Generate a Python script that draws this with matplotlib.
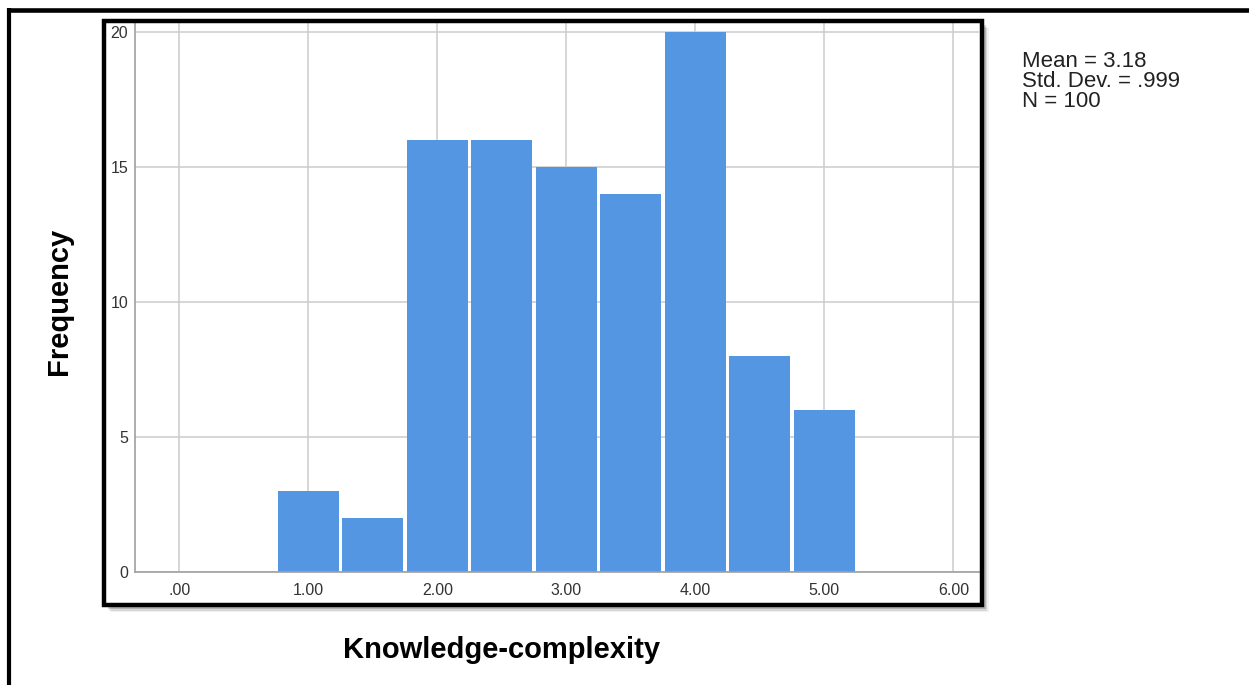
import matplotlib
matplotlib.use("Agg")
import matplotlib.pyplot as plt
from matplotlib.patches import Rectangle
from matplotlib.lines import Line2D

# ---- data ----
bin_centers = [1.0, 1.5, 2.0, 2.5, 3.0, 3.5, 4.0, 4.5, 5.0]
frequencies = [3, 2, 16, 16, 15, 14, 20, 8, 6]
x_ticks = [0, 1, 2, 3, 4, 5, 6]
x_tick_labels = [".00", "1.00", "2.00", "3.00", "4.00", "5.00", "6.00"]
y_ticks = [0, 5, 10, 15, 20]
y_tick_labels = ["0", "5", "10", "15", "20"]
stats_lines = ["Mean = 3.18", "Std. Dev. = .999", "N = 100"]
x_title = "Knowledge-complexity"
y_title = "Frequency"

plt.rcParams['font.family'] = ['Liberation Sans', 'DejaVu Sans']

W, H = 1249, 685
fig = plt.figure(figsize=(W / 100, H / 100), dpi=100)
fig.patch.set_facecolor("white")


def fx(px):
    return px / W


def fy(py):
    return 1 - py / H


# shadow + white interior of the inner frame
for off, a in [(7, 0.06), (5.5, 0.10), (4, 0.16)]:
    fig.add_artist(Rectangle((fx(104 + off), fy(605 + off)), fx(982) - fx(104), fy(21) - fy(605),
                             transform=fig.transFigure, facecolor="#000000", edgecolor="none",
                             alpha=a, zorder=-3))
fig.add_artist(Rectangle((fx(104), fy(605)), fx(982) - fx(104), fy(21) - fy(605),
                         transform=fig.transFigure, facecolor="white", edgecolor="none", zorder=-1))

ax = fig.add_axes([fx(135), fy(572), fx(979) - fx(135), fy(23) - fy(572)])
ax.set_xlim(-0.343, 6.199)
ax.set_ylim(0, 20.33)
ax.bar(bin_centers, frequencies, width=0.47, color="#5596e3", edgecolor="none", zorder=2)

ax.set_xticks(x_ticks)
ax.set_xticklabels(x_tick_labels)
ax.set_yticks(y_ticks)
ax.set_yticklabels(y_tick_labels)
ax.set_axisbelow(True)
ax.grid(True, color="#cccccc", linewidth=1.1, zorder=0)
for s in ["top", "right"]:
    ax.spines[s].set_visible(False)
for s in ["left", "bottom"]:
    ax.spines[s].set_color("#a0a0a0")
    ax.spines[s].set_linewidth(1.2)
ax.tick_params(axis="x", length=0, pad=8, labelsize=11.5, labelcolor="#333333")
ax.tick_params(axis="y", length=0, pad=5, labelsize=11.5, labelcolor="#333333")

# inner frame outline
fig.add_artist(Rectangle((fx(104), fy(605)), fx(982) - fx(104), fy(21) - fy(605),
                         transform=fig.transFigure, fill=False, edgecolor="black",
                         linewidth=3.2, zorder=5))

# outer page frame (top and left)
fig.add_artist(Line2D([fx(7), fx(1249)], [fy(10.2), fy(10.2)], transform=fig.transFigure,
                      color="black", linewidth=3.3, solid_capstyle="butt", zorder=5))
fig.add_artist(Line2D([fx(9), fx(9)], [fy(8), fy(685)], transform=fig.transFigure,
                      color="black", linewidth=3.0, solid_capstyle="butt", zorder=5))

# axis titles
fig.text(fx(502), fy(650), x_title, ha="center", va="center", fontsize=21,
         fontweight="bold", color="black")
fig.text(fx(59), fy(301), y_title, ha="center", va="center", rotation=90, fontsize=21,
         fontweight="bold", color="black")

# stats box
for i, line in enumerate(stats_lines):
    fig.text(fx(1022), fy(67 + 20 * i), line, ha="left", va="baseline", fontsize=16,
             color="#222222")

fig.savefig("out.png", dpi=100)
